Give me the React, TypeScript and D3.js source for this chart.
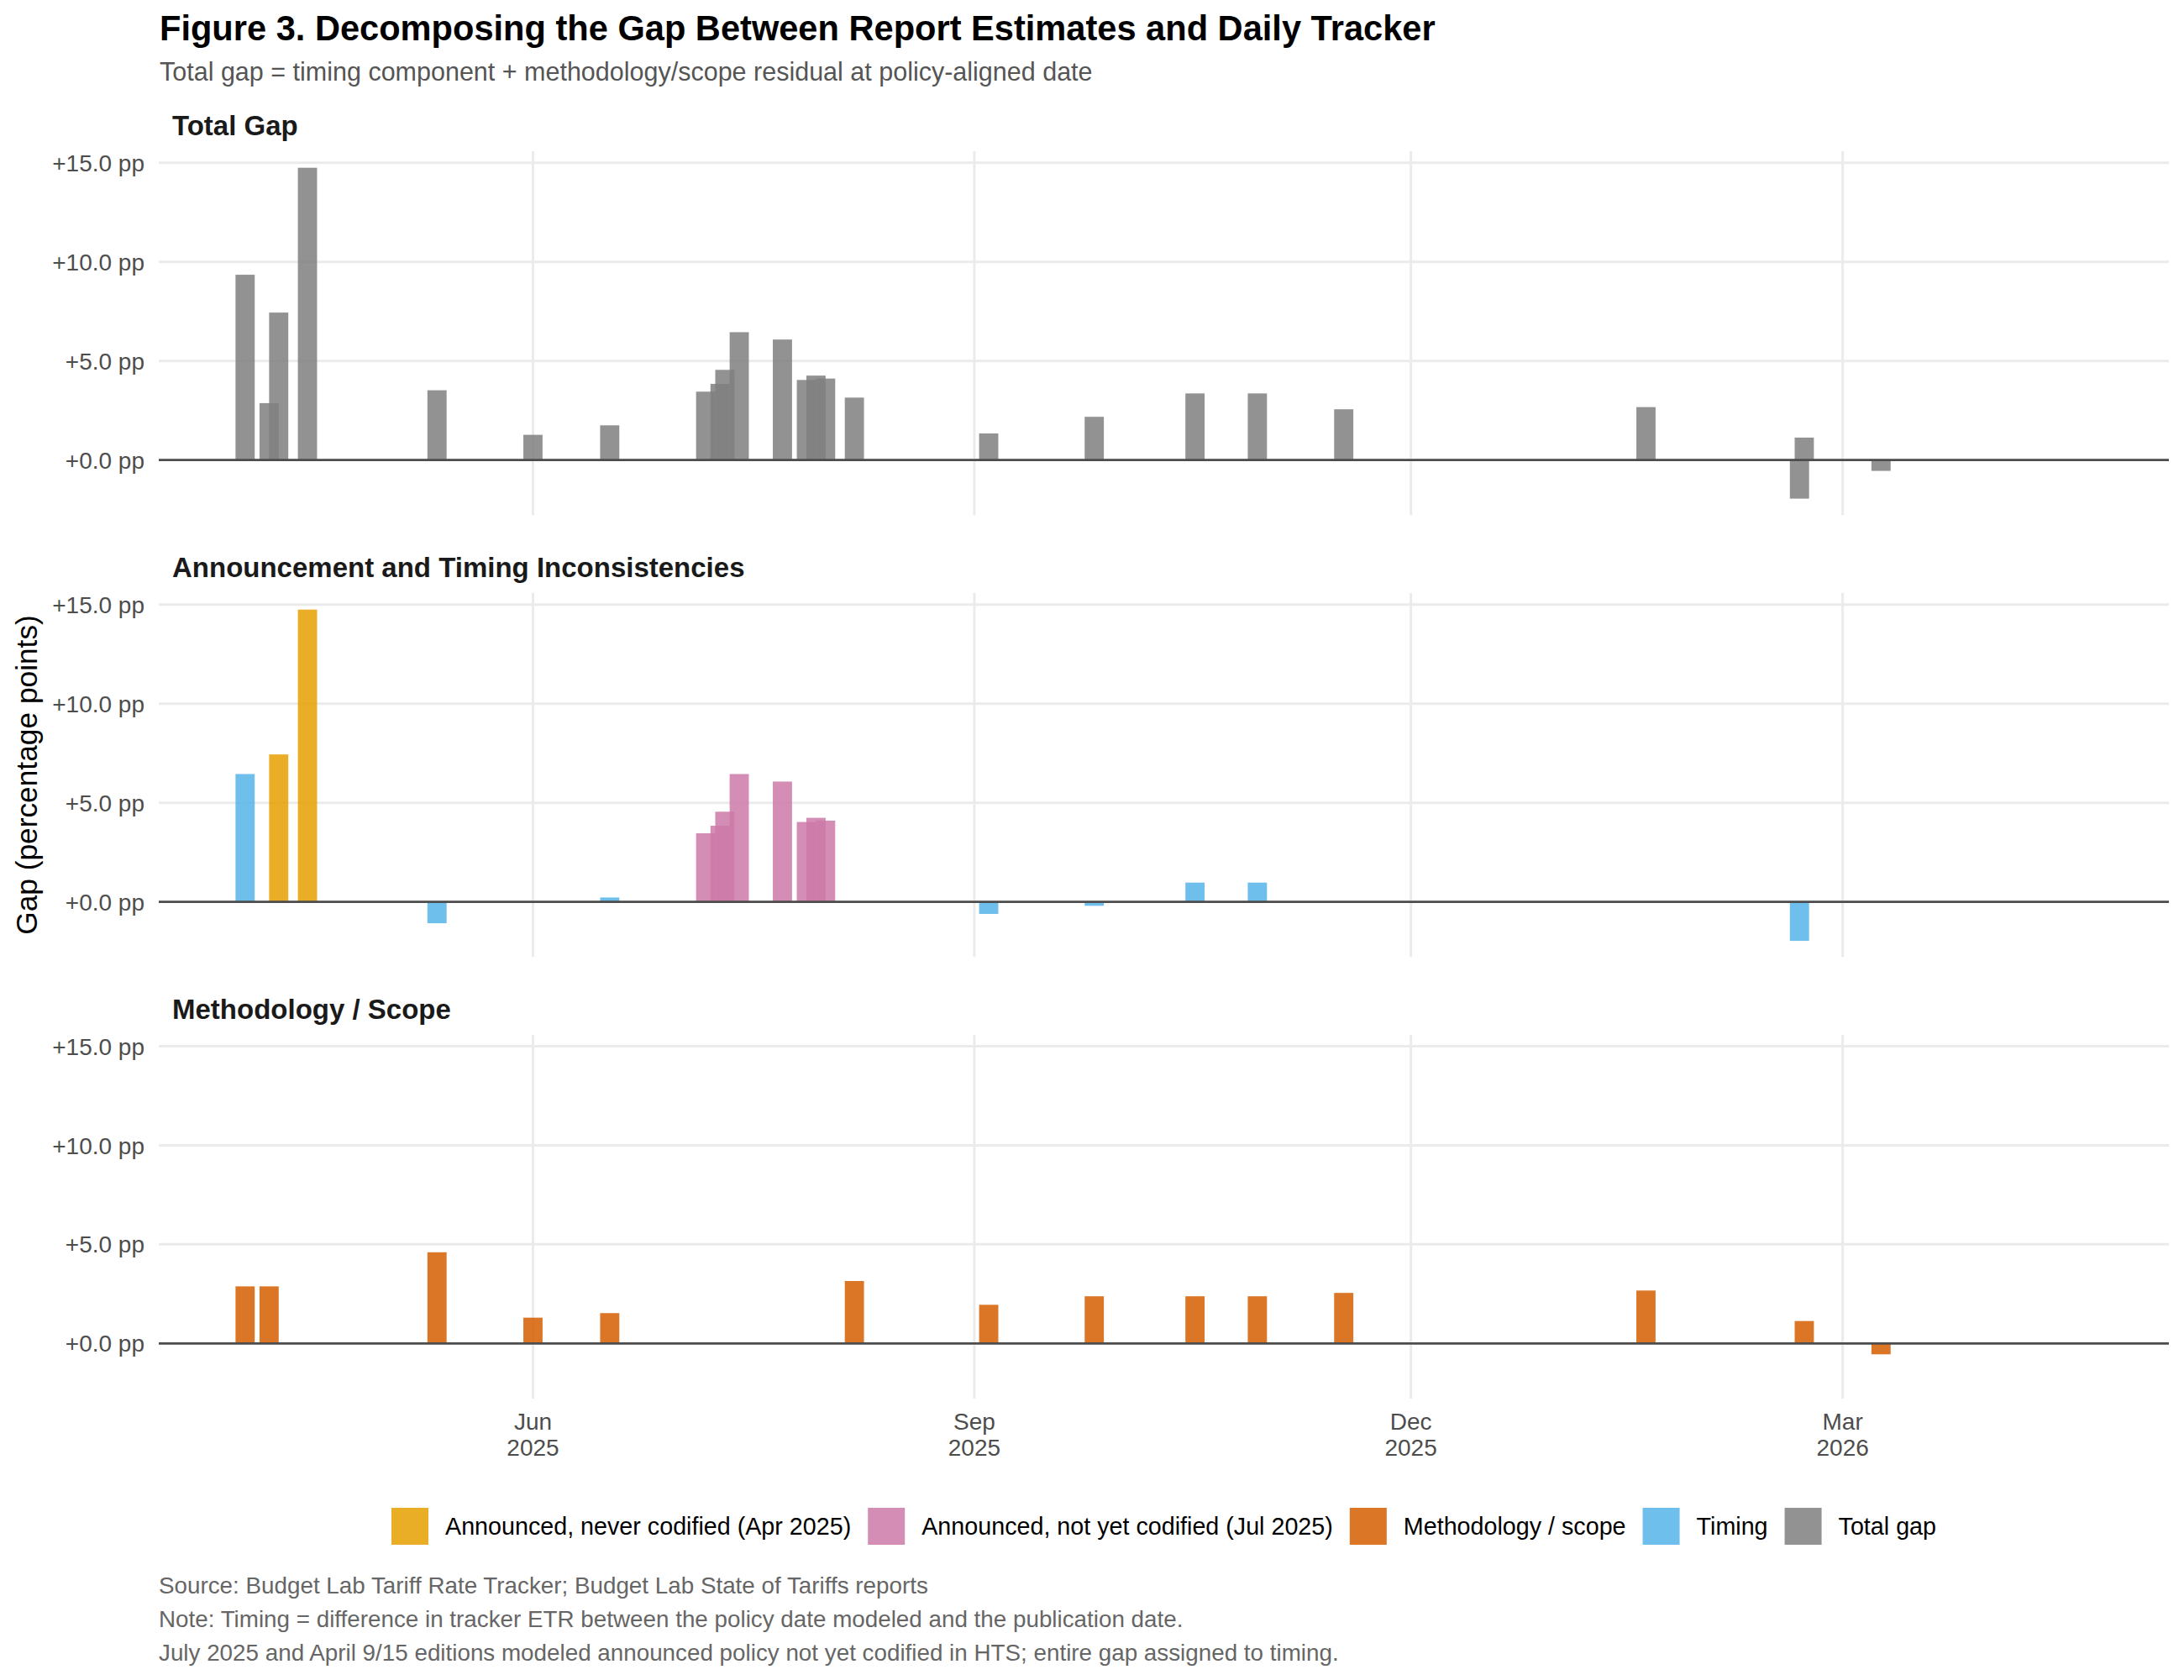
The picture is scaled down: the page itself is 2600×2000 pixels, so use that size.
import React, { useMemo } from 'react';
import * as d3 from 'd3';

// ---- data (pp gap by report date) ----
const totalDates = [
  '2025-04-02', '2025-04-07', '2025-04-09', '2025-04-15', '2025-05-12', '2025-06-01',
  '2025-06-17', '2025-07-07', '2025-07-10', '2025-07-11', '2025-07-14', '2025-07-23',
  '2025-07-28', '2025-07-30', '2025-08-01', '2025-08-07', '2025-09-04', '2025-09-26',
  '2025-10-17', '2025-10-30', '2025-11-17', '2026-01-19', '2026-02-20', '2026-02-21',
  '2026-03-09',
];
const totalValues = [
  9.35, 2.87, 7.44, 14.75, 3.52, 1.27,
  1.75, 3.45, 3.84, 4.55, 6.45, 6.08,
  4.04, 4.26, 4.11, 3.15, 1.34, 2.18,
  3.36, 3.36, 2.56, 2.67, -1.95, 1.13,
  -0.55,
];

const timingDates = ['2025-04-02', '2025-05-12', '2025-06-17', '2025-09-04', '2025-09-26', '2025-10-17', '2025-10-30', '2026-02-20'];
const timingValues = [6.45, -1.08, 0.22, -0.61, -0.2, 0.97, 0.97, -1.97];

const aprDates = ['2025-04-09', '2025-04-15'];
const aprValues = [7.44, 14.75];

const julDates = ['2025-07-07', '2025-07-10', '2025-07-11', '2025-07-14', '2025-07-23', '2025-07-28', '2025-07-30', '2025-08-01'];
const julValues = [3.46, 3.84, 4.55, 6.45, 6.07, 4.03, 4.24, 4.1];

const methDates = [
  '2025-04-02', '2025-04-07', '2025-05-12', '2025-06-01', '2025-06-17', '2025-08-07',
  '2025-09-04', '2025-09-26', '2025-10-17', '2025-10-30', '2025-11-17', '2026-01-19',
  '2026-02-21', '2026-03-09',
];
const methValues = [2.88, 2.88, 4.6, 1.3, 1.53, 3.15, 1.95, 2.38, 2.38, 2.38, 2.55, 2.67, 1.13, -0.55];

const yTicks = [0, 5, 10, 15];
const xTicks = ['2025-06-01', '2025-09-01', '2025-12-01', '2026-03-01'];
const xDomain = ['2025-03-15', '2026-05-08'];
const yDomain = [-2.785, 15.585];
const barDays = 4;

const panelTitles = ['Total Gap', 'Announcement and Timing Inconsistencies', 'Methodology / Scope'];

const COL_APR = '#E69F00';
const COL_JUL = '#CC79A7';
const COL_METH = '#D55E00';
const COL_TIMING = '#56B4E9';
const COL_TOTAL = '#7F7F7F';

const legendLabels = [
  'Announced, never codified (Apr 2025)',
  'Announced, not yet codified (Jul 2025)',
  'Methodology / scope',
  'Timing',
  'Total gap',
];
const legendColors = [COL_APR, COL_JUL, COL_METH, COL_TIMING, COL_TOTAL];

const captionLines = [
  'Source: Budget Lab Tariff Rate Tracker; Budget Lab State of Tariffs reports',
  'Note: Timing = difference in tracker ETR between the policy date modeled and the publication date.',
  'July 2025 and April 9/15 editions modeled announced policy not yet codified in HTS; entire gap assigned to timing.',
];

const FONT = '"Liberation Sans", Arial, Helvetica, sans-serif';
const parse = (s: string) => {
  const [y, m, d] = s.split('-').map(Number);
  return new Date(Date.UTC(y, m - 1, d));
};
const DAY = 86400000;

// panel geometry
const plotLeft = 189;
const plotRight = 2582;
const panelTops = [180, 706, 1231.7];
const panelH = 433.3;

const panelSeries = [
  [{ dates: totalDates, values: totalValues, color: COL_TOTAL }],
  [
    { dates: timingDates, values: timingValues, color: COL_TIMING },
    { dates: aprDates, values: aprValues, color: COL_APR },
    { dates: julDates, values: julValues, color: COL_JUL },
  ],
  [{ dates: methDates, values: methValues, color: COL_METH }],
];

function measure(text: string, font: string) {
  const c = document.createElement('canvas').getContext('2d');
  if (!c) return text.length * 14;
  c.font = font;
  return c.measureText(text).width;
}

export default function App() {
  const x = d3.scaleUtc().domain(xDomain.map(parse)).range([plotLeft, plotRight]);
  const fmtMon = d3.utcFormat('%b');
  const fmtYr = d3.utcFormat('%Y');
  const fmtY = (v: number) => `${v >= 0 ? '+' : ''}${v.toFixed(1)} pp`;

  const legendFontSize = 28.7;
  const legend = useMemo(() => {
    const key = 44, gapIn = 20, gapOut = 20;
    const widths = legendLabels.map(l => measure(l, `${legendFontSize}px ${FONT}`));
    const total = widths.reduce((a, w) => a + key + gapIn + w, 0) + gapOut * (widths.length - 1);
    let cx = (plotLeft + plotRight) / 2 - total / 2;
    return widths.map((w, i) => {
      const item = { x: cx, label: legendLabels[i], color: legendColors[i] };
      cx += key + gapIn + w + gapOut;
      return item;
    });
  }, []);

  return (
    <svg width={2600} height={2000} viewBox="0 0 2600 2000"
      style={{ position: 'absolute', left: 0, top: 0, background: '#fff', fontFamily: FONT }}>
      <rect x={0} y={0} width={2600} height={2000} fill="#fff" />
      <text x={190} y={48} fontSize={41.6} fontWeight="bold" fill="#000">
        Figure 3. Decomposing the Gap Between Report Estimates and Daily Tracker
      </text>
      <text x={190} y={96} fontSize={30.5} fill="#555">
        Total gap = timing component + methodology/scope residual at policy-aligned date
      </text>

      {panelTops.map((top, pi) => {
        const y = d3.scaleLinear().domain(yDomain).range([top + panelH, top]);
        const y0 = y(0);
        return (
          <g key={pi}>
            <text x={205} y={top - 19} fontSize={33} fontWeight="bold" fill="#1a1a1a">{panelTitles[pi]}</text>
            {xTicks.map(t => (
              <line key={t} x1={x(parse(t))} x2={x(parse(t))} y1={top} y2={top + panelH} stroke="#EBEBEB" strokeWidth={3} />
            ))}
            {yTicks.map(t => (
              <g key={t}>
                <line x1={plotLeft} x2={plotRight} y1={y(t)} y2={y(t)} stroke="#EBEBEB" strokeWidth={3} />
                <text x={172} y={y(t)} dy="0.36em" textAnchor="end" fontSize={28} fill="#4D4D4D">{fmtY(t)}</text>
              </g>
            ))}
            {panelSeries[pi].map((s, si) => (
              <g key={si}>
                {s.dates.map((d, i) => {
                  const dt = parse(d).getTime();
                  const xa = x(new Date(dt - (barDays / 2) * DAY));
                  const xb = x(new Date(dt + (barDays / 2) * DAY));
                  const yv = y(s.values[i]);
                  return (
                    <rect key={d} x={xa} width={xb - xa} y={Math.min(yv, y0)} height={Math.abs(yv - y0)}
                      fill={s.color} fillOpacity={0.85} />
                  );
                })}
              </g>
            ))}
            <line x1={plotLeft} x2={plotRight} y1={y0} y2={y0} stroke="#4D4D4D" strokeWidth={2.7} />
          </g>
        );
      })}

      {xTicks.map(t => {
        const d = parse(t);
        return (
          <g key={t} fill="#4D4D4D" fontSize={28} textAnchor="middle">
            <text x={x(d)} y={1702}>{fmtMon(d)}</text>
            <text x={x(d)} y={1733}>{fmtYr(d)}</text>
          </g>
        );
      })}

      <text transform={`translate(44, ${(panelTops[0] + panelTops[2] + panelH) / 2}) rotate(-90)`}
        textAnchor="middle" fontSize={35.3} fill="#000">Gap (percentage points)</text>

      {legend.map(item => (
        <g key={item.label}>
          <rect x={item.x} y={1795} width={44} height={44} fill={item.color} fillOpacity={0.85} />
          <text x={item.x + 64} y={1827} fontSize={legendFontSize} fill="#000">{item.label}</text>
        </g>
      ))}

      {captionLines.map((l, i) => (
        <text key={i} x={189} y={1897 + i * 40} fontSize={27.8} fill="#666">{l}</text>
      ))}
    </svg>
  );
}
